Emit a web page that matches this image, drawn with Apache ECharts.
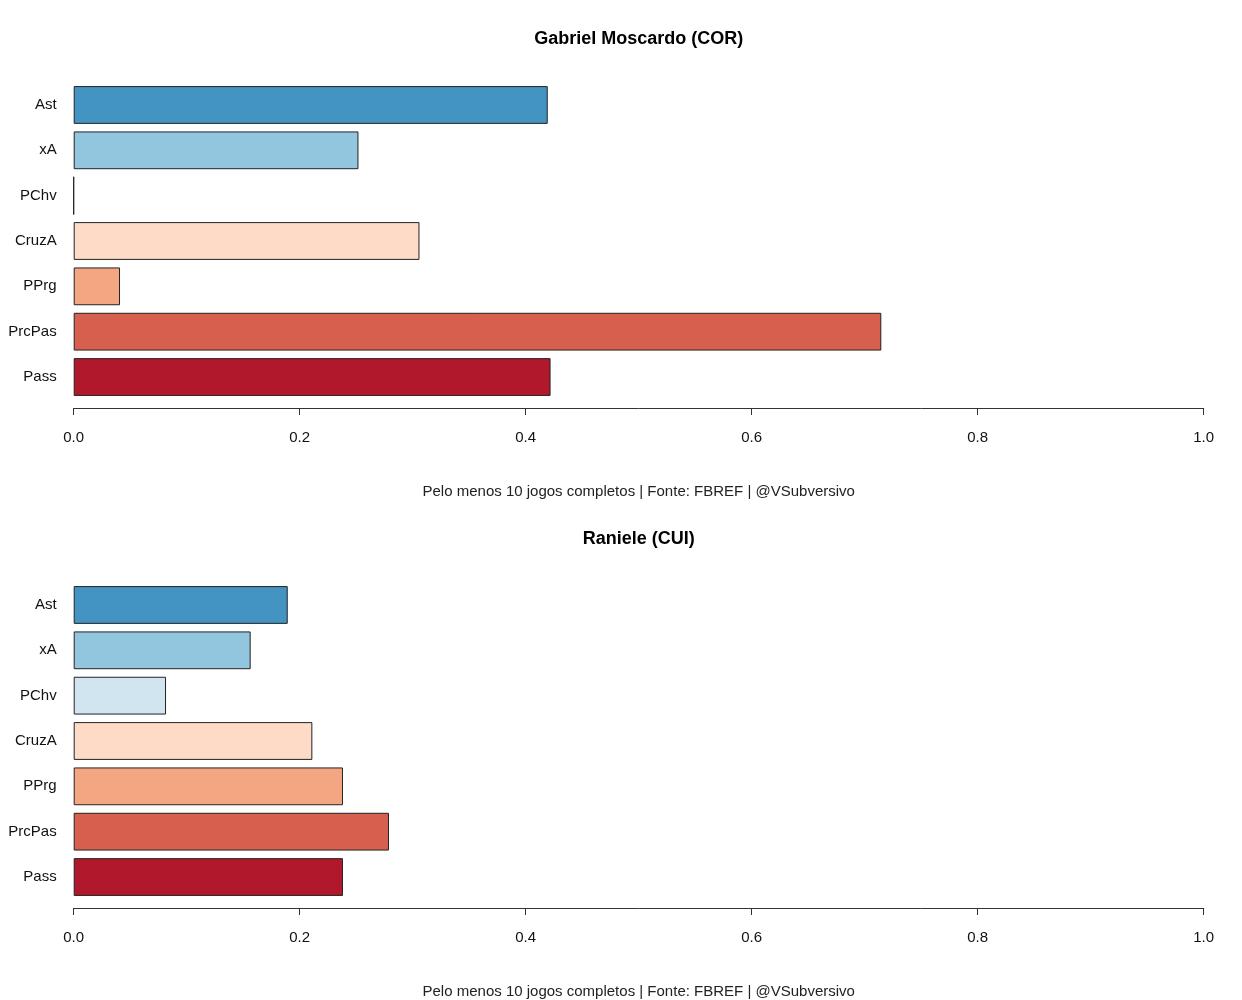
<!DOCTYPE html>
<html>
<head>
<meta charset="utf-8">
<script src="https://cdn.jsdelivr.net/npm/echarts@6/dist/echarts.min.js"></script>
<style>html,body{margin:0;padding:0;background:#fff}#c{width:1242px;height:1000px}</style>
</head>
<body>
<div id="c"></div>
<script>
const categories = ["Ast", "xA", "PChv", "CruzA", "PPrg", "PrcPas", "Pass"];
const colors = ["#4393C3", "#92C5DE", "#D1E5F0", "#FDDBC7", "#F4A582", "#D6604D", "#B2182B"];
const titleTop = "Gabriel Moscardo (COR)";
const valuesTop = [0.4195, 0.252, 0, 0.306, 0.041, 0.7147, 0.422];
const titleBottom = "Raniele (CUI)";
const valuesBottom = [0.1894, 0.1566, 0.0817, 0.2112, 0.2383, 0.279, 0.2383];
const caption = "Pelo menos 10 jogos completos | Fonte: FBREF | @VSubversivo";
const xTicks = [0, 0.2, 0.4, 0.6, 0.8, 1.0];

const FONT = "Liberation Sans, Arial, Helvetica, sans-serif";
const panels = [
  { title: titleTop, values: valuesTop, y0: 0 },
  { title: titleBottom, values: valuesBottom, y0: 500 }
];

const chart = echarts.init(document.getElementById('c'), null, { renderer: 'canvas' });
const option = {
  backgroundColor: '#ffffff',
  animation: false,
  graphic: [],
  grid: [],
  xAxis: [],
  yAxis: [],
  series: []
};

panels.forEach((p, i) => {
  option.graphic.push({
    type: 'text', x: 638.7, y: p.y0 + 39,
    style: {
      text: p.title, align: 'center', verticalAlign: 'middle',
      font: 'bold 18px ' + FONT, fill: '#000'
    }
  });
  option.graphic.push({
    type: 'text', x: 638.7, y: p.y0 + 492,
    style: {
      text: caption, align: 'center', verticalAlign: 'middle',
      font: '15px ' + FONT, fill: '#222'
    }
  });
  option.grid.push({
    left: 73.7, right: 38.3, top: p.y0 + 82.3, height: 317.4, containLabel: false
  });
  option.xAxis.push({
    type: 'value', gridIndex: i, min: 0, max: 1, interval: 0.2,
    position: 'bottom', offset: 8.3,
    axisLine: { show: true, lineStyle: { color: '#333', width: 1 } },
    axisTick: { show: true, inside: false, length: 7, lineStyle: { color: '#333', width: 1 } },
    axisLabel: {
      fontFamily: FONT, fontSize: 15, color: '#111', margin: 22,
      formatter: v => v.toFixed(1)
    },
    splitLine: { show: false }
  });
  option.yAxis.push({
    type: 'category', gridIndex: i, data: categories, inverse: true,
    axisLine: { show: false }, axisTick: { show: false },
    axisLabel: { fontFamily: FONT, fontSize: 15, color: '#111', margin: 17, padding: [2, 0, 0, 0] }
  });
  option.series.push({
    type: 'bar', xAxisIndex: i, yAxisIndex: i,
    barCategoryGap: '16.67%',
    data: p.values.map((v, k) => ({
      value: v,
      itemStyle: { color: colors[k], borderColor: '#222', borderWidth: 1 }
    }))
  });
});

chart.setOption(option);
</script>
</body>
</html>
